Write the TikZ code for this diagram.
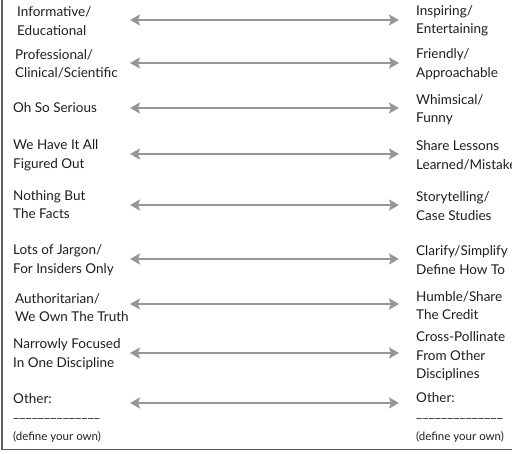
\documentclass[tikz,border=0pt]{standalone}
\usepackage{fontspec}
\setmainfont{Lato}
\usetikzlibrary{arrows.meta}
\definecolor{arrowgray}{RGB}{150,150,150}
\definecolor{framegray}{RGB}{95,95,95}
\definecolor{inkgray}{RGB}{30,30,30}

\begin{document}
\begin{tikzpicture}[x=1pt,y=-1pt,
	trait/.style={anchor=west, align=left, inner sep=0pt, text=inkgray, font=\fontsize{13.5}{18.5}\selectfont},
	hint/.style={anchor=west, inner sep=0pt, text=inkgray, font=\fontsize{11.5}{13}\selectfont},
	scalearrow/.style={draw=arrowgray, line width=2.2pt, arrows={Stealth[length=10pt,width=11pt,inset=2pt]-Stealth[length=10pt,width=11pt,inset=2pt]}}]
	\useasboundingbox (0,0) rectangle (512,454);
	\draw[framegray, line width=1.6pt] (2,0) -- (2,449.5) -- (512,449.5); % Frame.

	% Left column.
	\node[trait] (informative) at (17,21) {Informative/\\Educational};
	\node[trait] (professional) at (15,64) {Professional/\\Clinical/Scientific};
	\node[trait] (serious) at (13,108) {Oh So Serious};
	\node[trait] (figured) at (13,155.5) {We Have It All\\Figured Out};
	\node[trait] (facts) at (13,204.5) {Nothing But\\The Facts};
	\node[trait] (jargon) at (13,260) {Lots of Jargon/\\For Insiders Only};
	\node[trait] (truth) at (15,307.5) {Authoritarian/\\We Own The Truth};
	\node[trait] (narrow) at (13,354) {Narrowly Focused\\In One Discipline};
	\node[trait] (otherl) at (13,399) {Other:};
	\node[trait] (blankl) at (13,418) {\_\_\_\_\_\_\_\_\_\_\_\_\_\_};
	\node[hint] (ownl) at (13,437) {(define your own)};

	% Right column.
	\node[trait] (inspiring) at (416,21) {Inspiring/\\Entertaining};
	\node[trait] (friendly) at (416,64) {Friendly/\\Approachable};
	\node[trait] (whimsical) at (416,109.5) {Whimsical/\\Funny};
	\node[trait] (lessons) at (416,155.5) {Share Lessons\\Learned/Mistakes};
	\node[trait] (story) at (416,206) {Storytelling/\\Case Studies};
	\node[trait] (clarify) at (416,260) {Clarify/Simplify\\Define How To};
	\node[trait] (humble) at (416,305.5) {Humble/Share\\The Credit};
	\node[trait] (cross) at (416,356.5) {Cross-Pollinate\\From Other\\Disciplines};
	\node[trait] (otherr) at (416,398) {Other:};
	\node[trait] (blankr) at (416,418) {\_\_\_\_\_\_\_\_\_\_\_\_\_\_};
	\node[hint] (ownr) at (416,437) {(define your own)};

	% Arrows.
	\foreach \y [count=\i] in {20,63,108,154,205,259,304,353,403} {
		\coordinate (l\i) at (130,\y);
		\coordinate (r\i) at (399,\y);
		\draw[scalearrow] (l\i) -- (r\i);
	}
\end{tikzpicture}
\end{document}
